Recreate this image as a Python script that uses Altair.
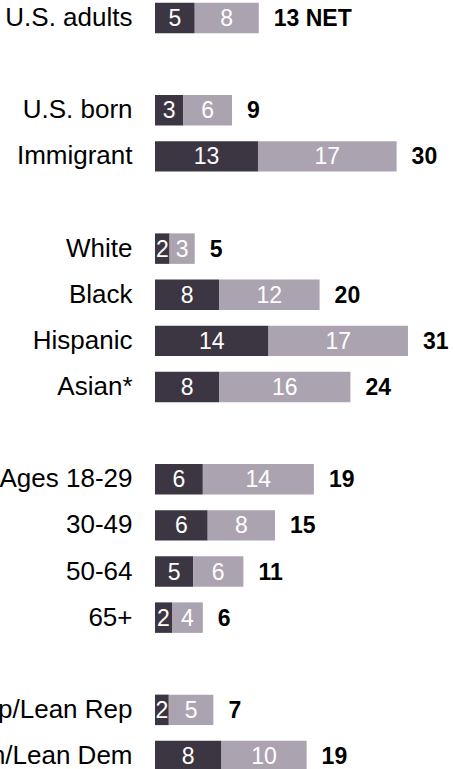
import altair as alt
import pandas as pd

categories = ["U.S. adults", "U.S. born", "Immigrant", "White", "Black", "Hispanic",
              "Asian*", "Ages 18-29", "30-49", "50-64", "65+", "Rep/Lean Rep", "Dem/Lean Dem"]
dark_values = [4.9, 3.5, 12.7, 1.8, 7.9, 14.0, 7.9, 5.9, 6.5, 4.7, 2.1, 1.7, 8.2]
light_values = [7.9, 6.0, 17.1, 3.1, 12.4, 17.2, 16.2, 13.7, 8.3, 6.2, 3.8, 5.5, 10.5]
dark_labels = ["5", "3", "13", "2", "8", "14", "8", "6", "6", "5", "2", "2", "8"]
light_labels = ["8", "6", "17", "3", "12", "17", "16", "14", "8", "6", "4", "5", "10"]
net_labels = ["13 NET", "9", "30", "5", "20", "31", "24", "19", "15", "11", "6", "7", "19"]
row_order = ["U.S. adults", " ", "U.S. born", "Immigrant", "  ", "White", "Black",
             "Hispanic", "Asian*", "   ", "Ages 18-29", "30-49", "50-64", "65+", "    ",
             "Rep/Lean Rep", "Dem/Lean Dem"]

DARK = "#3c3642"
LIGHT = "#aca3b0"
FONT = "Liberation Sans"

rows = []
for i, c in enumerate(categories):
    rows.append({"cat": c, "seg": "dark", "ord": 0, "value": dark_values[i], "label": dark_labels[i]})
    rows.append({"cat": c, "seg": "light", "ord": 1, "value": light_values[i], "label": light_labels[i]})
segs = pd.DataFrame(rows)
totals = pd.DataFrame({
    "cat": categories,
    "total": [d + l for d, l in zip(dark_values, light_values)],
    "net": net_labels,
})

yenc = alt.Y(
    "cat:N",
    sort=row_order,
    scale=alt.Scale(domain=row_order, paddingInner=0.3388, paddingOuter=0),
    axis=alt.Axis(title=None, domain=False, ticks=False, labelPadding=23,
                  labelFontSize=26, labelFont=FONT, labelColor="#000000",
                  labelLimit=400),
)
xscale = alt.Scale(domain=[0, 37], nice=False, zero=True)

base = alt.Chart(segs).transform_stack(
    stack="value", groupby=["cat"], as_=["start", "end"],
    sort=[alt.SortField("ord", order="ascending")],
).transform_calculate(mid="(datum.start + datum.end) / 2")

bars = base.mark_bar(cornerRadius=0).encode(
    y=yenc,
    x=alt.X("start:Q", scale=xscale, axis=None),
    x2="end:Q",
    color=alt.Color("seg:N", scale=alt.Scale(domain=["dark", "light"], range=[DARK, LIGHT]),
                    legend=None),
)

seg_text = base.mark_text(color="white", fontSize=23, font=FONT, align="center",
                          baseline="middle", dy=1).encode(
    y=yenc,
    x=alt.X("mid:Q", scale=xscale, axis=None),
    text="label:N",
)

net_text = alt.Chart(totals).mark_text(align="left", baseline="middle", dx=15, dy=1,
                                       fontSize=23, fontWeight="bold", font=FONT,
                                       color="#000000").encode(
    y=yenc,
    x=alt.X("total:Q", scale=xscale, axis=None),
    text="net:N",
)

chart = alt.layer(bars, seg_text, net_text).properties(
    width=300,
    height=768.5,
    autosize=alt.AutoSizeParams(type="none"),
    padding={"left": 155, "top": 2.75, "right": 0, "bottom": 0},
    background="white",
).configure_view(stroke=None)

chart.save("out.html", embed_options={"renderer": "svg", "actions": False})
